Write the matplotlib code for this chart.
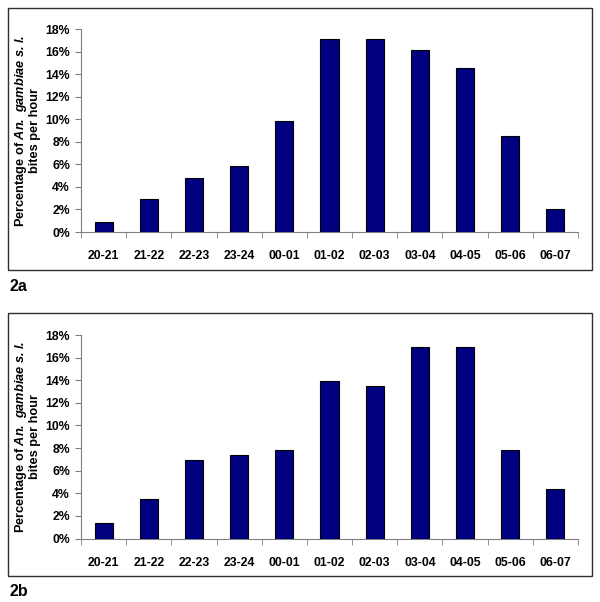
import numpy as np
import matplotlib
matplotlib.use("Agg")
from matplotlib import pyplot as plt
from matplotlib.patches import Rectangle

# Hourly categories and percentages of bites
hours = ['20-21', '21-22', '22-23', '23-24', '00-01', '01-02',
         '02-03', '03-04', '04-05', '05-06', '06-07']
pct_2a = [0.9, 2.9, 4.8, 5.85, 9.85, 17.1, 17.1, 16.1, 14.5, 8.55, 2.0]
pct_2b = [1.4, 3.5, 6.95, 7.4, 7.85, 13.9, 13.45, 16.9, 16.9, 7.85, 4.4]
panel_labels = ['2a', '2b']

plt.rcParams['font.family'] = 'Liberation Sans'
plt.rcParams['mathtext.fontset'] = 'custom'
plt.rcParams['mathtext.bfit'] = 'Liberation Sans:italic:bold'
plt.rcParams['mathtext.rm'] = 'Liberation Sans:bold'

fig = plt.figure(figsize=(6.0, 6.02), dpi=100)
W, H = 600.0, 602.0

def px(x0, y0, x1, y1):
    # pixel box (top-left origin) -> figure fraction [l, b, w, h]
    return [x0 / W, 1 - y1 / H, (x1 - x0) / W, (y1 - y0) / H]

ind = np.arange(len(hours))
panels = [
    (pct_2a, px(81, 29, 578, 232), (8, 8, 592, 270), 291),
    (pct_2b, px(81, 335, 578, 538.5), (8, 313, 592, 576), 596),
]

for k, (vals, box, frame, laby) in enumerate(panels):
    ax = fig.add_axes(box)
    ax.bar(ind, vals, 0.4, color='#000080', edgecolor='black', linewidth=0.8, zorder=3)
    ax.set_xlim(-0.5, len(hours) - 0.5)
    ax.set_ylim(0, 18)
    ax.set_yticks(np.arange(0, 19, 2))
    ax.set_yticklabels(['%d%%' % v for v in range(0, 19, 2)], fontsize=8.8, fontweight='bold')
    ax.set_xticks(ind)
    ax.set_xticklabels(hours, fontsize=8.8, fontweight='bold')
    ax.set_xticks(np.arange(-0.5, len(hours)), minor=True)
    ax.tick_params(axis='x', which='major', length=0, pad=13)
    ax.tick_params(axis='x', which='minor', length=4, direction='out', color='#808080')
    ax.tick_params(axis='y', length=4, color='#808080', pad=4)
    for s in ['top', 'right']:
        ax.spines[s].set_visible(False)
    for s in ['left', 'bottom']:
        ax.spines[s].set_color('#808080')
        ax.spines[s].set_linewidth(0.8)
    ax.set_ylabel(r'Percentage of $\mathbfit{An.\ gambiae\ s.l.}$' + '\nbites per hour',
                  fontsize=9.2, fontweight='bold', linespacing=1.0, labelpad=3)

    x0, y0, x1, y1 = frame
    fig.patches.append(Rectangle((x0 / W, 1 - y1 / H), (x1 - x0) / W, (y1 - y0) / H,
                                 transform=fig.transFigure, fill=False,
                                 edgecolor='#303030', linewidth=1.0))
    fig.text(9 / W, 1 - laby / H, panel_labels[k], fontsize=11.5, fontweight='bold',
             ha='left', va='baseline')

plt.savefig('out.png', dpi=100)
